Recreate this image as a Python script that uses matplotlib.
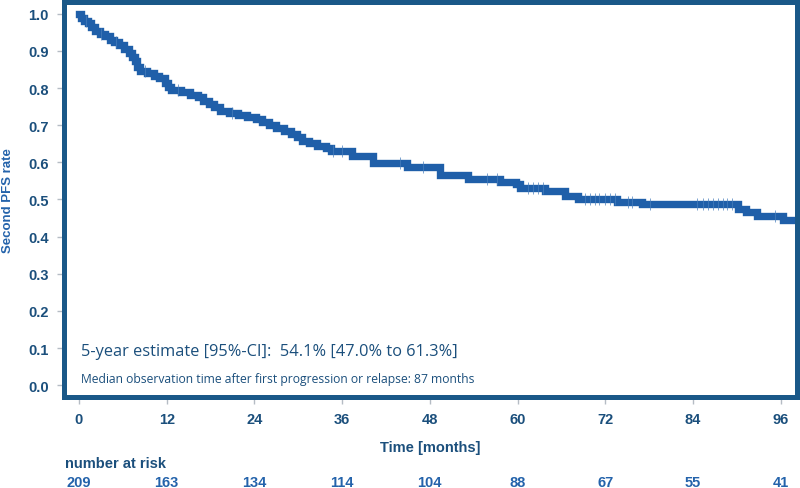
import matplotlib
matplotlib.use('Agg')
import matplotlib.pyplot as plt

# Kaplan-Meier estimate: step times (months) and survival after each step
times = [0, 0.3, 0.7, 1.2, 1.6, 2.2, 2.9, 3.5, 4.2, 4.8, 5.5, 6.1, 6.8, 7.3, 7.7,
         8.0, 8.3, 9.3, 10.2, 11.0, 11.8, 12.2, 12.6, 14.0, 15.2, 16.3, 17.0, 17.8,
         18.5, 19.3, 20.5, 21.8, 23.0, 24.2, 25.0, 26.0, 27.0, 28.0, 29.0, 29.8,
         30.5, 31.5, 32.5, 33.8, 34.5, 37.4, 40.2, 44.9, 49.4, 53.2, 57.6, 59.8,
         60.4, 63.7, 66.5, 68.2, 73.6, 77.0, 90.1, 91.3, 92.7, 96.3, 97.8]
surv = [1.0, 0.99, 0.98, 0.975, 0.965, 0.955, 0.945, 0.94, 0.93, 0.925, 0.915,
        0.905, 0.895, 0.885, 0.872, 0.858, 0.845, 0.84, 0.833, 0.826, 0.815, 0.802,
        0.795, 0.79, 0.782, 0.775, 0.765, 0.757, 0.748, 0.738, 0.733, 0.727, 0.722,
        0.717, 0.708, 0.70, 0.693, 0.685, 0.676, 0.668, 0.658, 0.651, 0.645, 0.638,
        0.631, 0.617, 0.598, 0.587, 0.566, 0.555, 0.547, 0.541, 0.531, 0.523, 0.509,
        0.501, 0.493, 0.488, 0.474, 0.466, 0.456, 0.445, 0.445]

# censored observations
censor_t = [1.0, 3.0, 5.0, 9.0, 13.5, 21.0, 34.7, 36.0, 43.9, 47.0, 55.8, 57.2,
            61.4, 62.1, 62.8, 63.5, 69.2, 69.9, 70.6, 71.2, 71.9, 72.6, 73.3,
            75.1, 75.6, 78.1, 84.6, 85.3, 86.0, 86.7, 87.4, 88.1, 88.7, 89.4, 95.2]

risk_t = [0, 12, 24, 36, 48, 60, 72, 84, 96]
at_risk = [209, 163, 134, 114, 104, 88, 67, 55, 41]

line_col = '#1f5fa9'
frame_col = '#1a5888'
text_col = '#1b4f7c'
light_col = '#2463ab'


def surv_at(t):
    s = surv[0]
    for tt, ss in zip(times, surv):
        if tt <= t:
            s = ss
    return s


fig = plt.figure(figsize=(8, 4.89), dpi=100)
ax = fig.add_axes([0.08, 0.186, 0.916, 0.808])

ax.step(times, surv, where='post', color=line_col, lw=5.3, solid_joinstyle='miter')
ax.plot(censor_t, [surv_at(t) for t in censor_t], ls='none', marker='|',
        ms=8, mew=0.5, color='#4a7fbd')

ax.set_xlim(-2.05, 98.2)
ax.set_ylim(-0.032, 1.032)
ax.set_xticks(risk_t)
ax.set_yticks([i / 10 for i in range(11)])
ax.set_yticklabels([f'{i / 10:.1f}' for i in range(11)])

for sp in ax.spines.values():
    sp.set_color(frame_col)
    sp.set_linewidth(3.6)
ax.tick_params(colors='#b5bcc4', length=5, width=1, pad=6)
for lab in ax.get_xticklabels() + ax.get_yticklabels():
    lab.set_color(text_col)
    lab.set_fontweight('bold')
    lab.set_fontsize(10.5)
    lab.set_family('Liberation Sans')

ax.set_xlabel('Time [months]', fontsize=10.5, fontweight='bold', color=text_col,
              family='Liberation Sans', labelpad=10)
ax.set_ylabel('Second PFS rate', fontsize=9.5, fontweight='bold', color=light_col,
              family='Liberation Sans', labelpad=10)

ax.text(0.3, 0.092, '5-year estimate [95%-CI]:  54.1% [47.0% to 61.3%]',
        fontsize=11.8, color=text_col, family='Open Sans', va='center')
ax.text(0.3, 0.018, 'Median observation time after first progression or relapse: 87 months',
        fontsize=8.7, color=text_col, family='Open Sans', va='center')

# number at risk table
fig.text(65 / 800, 1 - 464 / 489, 'number at risk', fontsize=10.5, fontweight='bold',
         color=text_col, family='Liberation Sans', va='center')
for t, n in zip(risk_t, at_risk):
    xf = fig.transFigure.inverted().transform(ax.transData.transform((t, 0)))[0]
    fig.text(xf, 1 - 483 / 489, str(n), fontsize=10.5, fontweight='bold',
             color=light_col, family='Liberation Sans', ha='center', va='center')

fig.savefig('out.png', dpi=100)
